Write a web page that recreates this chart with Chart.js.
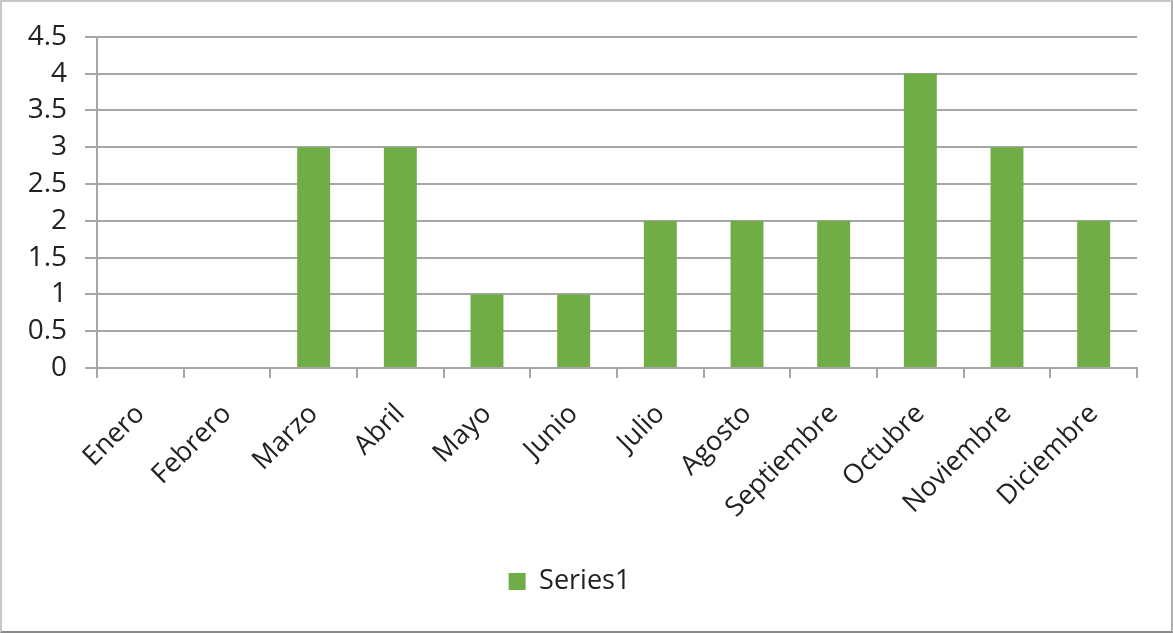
<!DOCTYPE html>
<html>
<head>
<meta charset="utf-8">
<script src="https://cdn.jsdelivr.net/npm/chart.js@4.4.0/dist/chart.umd.min.js"></script>
<style>
  html, body { margin: 0; padding: 0; background: #fff; }
  #wrap {
    width: 1173px; height: 633px; box-sizing: border-box;
    border: 2px solid #c8c8c8; border-bottom-color: #8a8a8a; border-right-color: #b0b0b0;
    position: relative;
  }
</style>
</head>
<body>
<div id="wrap"><canvas id="myChart"></canvas></div>
<script>
// monthly counts
var months = ["Enero", "Febrero", "Marzo", "Abril", "Mayo", "Junio", "Julio",
              "Agosto", "Septiembre", "Octubre", "Noviembre", "Diciembre"];
var series1 = [0, 0, 3, 3, 1, 1, 2, 2, 2, 4, 3, 2];
var yTicks = [0, 0.5, 1, 1.5, 2, 2.5, 3, 3.5, 4, 4.5];

var fontName = "'Open Sans', 'Noto Sans', sans-serif";
var gridGray = "#a6a6a6";

const chartData = {
  labels: months,
  datasets: [{
    label: "Series1",
    data: series1,
    backgroundColor: "#70ad47",
    borderWidth: 0,
    barPercentage: 0.38,
    categoryPercentage: 1
  }]
};

const config = {
  type: "bar",
  data: chartData,
  options: {
    responsive: false,
    animation: false,
    layout: { padding: { left: 0, right: 34, top: 26, bottom: 26 } },
    plugins: {
      tooltip: { enabled: false },
      legend: {
        position: "bottom",
        labels: {
          color: "#222",
          font: { family: fontName, size: 27 },
          boxWidth: 17,
          boxHeight: 17,
          padding: 10
        }
      }
    },
    scales: {
      x: {
        offset: true,
        grid: { offset: true, drawOnChartArea: false, color: gridGray, lineWidth: 2, tickLength: 10 },
        border: { color: gridGray, width: 2 },
        ticks: {
          color: "#222",
          minRotation: 45,
          maxRotation: 45,
          padding: 20,
          font: { family: fontName, size: 27 }
        },
        afterFit: function(scale) { scale.height = 190; }
      },
      y: {
        min: 0,
        max: 4.5,
        afterBuildTicks: function(scale) {
          scale.ticks = yTicks.map(function(v) { return { value: v }; });
        },
        grid: { color: gridGray, lineWidth: 2, tickLength: 12 },
        border: { color: gridGray, width: 2 },
        ticks: {
          color: "#222",
          padding: 18,
          font: { family: fontName, size: 28 },
          callback: function(v) { return String(v); }
        },
        afterFit: function(scale) { scale.width = 95; }
      }
    }
  }
};

var canvas = document.getElementById("myChart");
canvas.width = 1169;
canvas.height = 629;
myChart = new Chart(canvas, config);
</script>
</body>
</html>
